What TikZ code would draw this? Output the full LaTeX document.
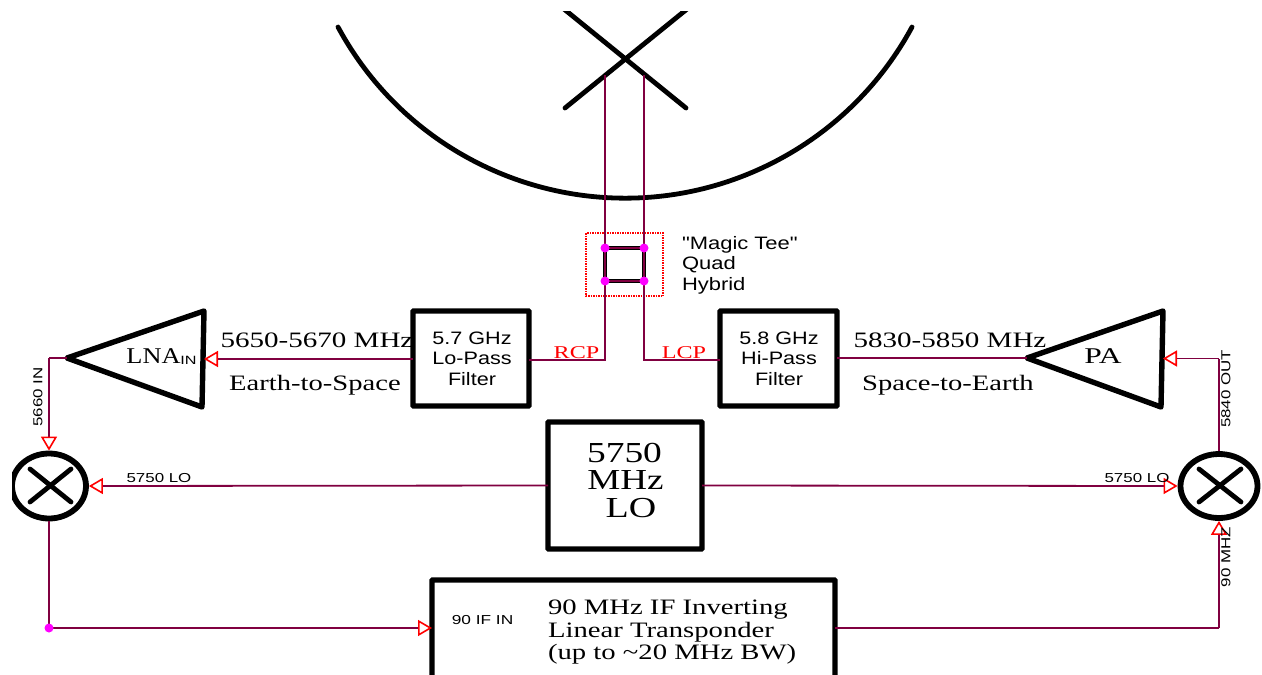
\documentclass[tikz,border=0pt]{standalone}
\usepackage{fontspec}
\usepackage{graphicx}
\setmainfont{Liberation Serif}
\setsansfont{Liberation Sans}[Ligatures=TeXOff]
\usetikzlibrary{arrows.meta,shapes.geometric}
\definecolor{wire}{HTML}{800040}
\definecolor{portc}{HTML}{FF00FF}
\definecolor{redc}{HTML}{FF0000}
\newcommand{\Ser}[3]{{\fontsize{#1}{#1}\selectfont\scalebox{#2}[1]{#3}}}
\newcommand{\San}[3]{{\sffamily\fontsize{#1}{#1}\selectfont\scalebox{#2}[1]{#3}}}
\tikzset{
  heavy/.style={draw=black,line width=5.4pt,line join=round,line cap=round},
  medium/.style={draw=black,line width=4.8pt,line cap=round},
  blockbox/.style={draw=black,line width=5.4pt,rounded corners=0.8pt,outer sep=0pt,inner sep=0pt,fill=white},
  mixer/.style={draw=black,line width=5.8pt,ellipse,outer sep=2.9pt,inner sep=0pt},
  wireline/.style={draw=wire,line width=1.8pt},
  feed/.style={wireline,-{Triangle[open,length=14pt,width=16pt,color=redc,line width=1.6pt]}},
  lbl/.style={inner sep=0pt,outer sep=0pt,text=black,align=center},
  port/.style={circle,fill=portc,inner sep=0pt,minimum size=9pt}
}
\begin{document}
\begin{tikzpicture}[x=1pt,y=-1pt]
\useasboundingbox (0,0) rectangle (1262,675);
\clip (12,11) rectangle (1262,675);
% coordinates
\coordinate (xtl) at (559,5);
\coordinate (xtr) at (692,5);
\coordinate (xbl) at (565,108);
\coordinate (xbr) at (686,108);
\coordinate (rcpTop) at (605,75);
\coordinate (lcpTop) at (644,75);
\coordinate (rcpBot) at (605,360);
\coordinate (lcpBot) at (644,360);
\coordinate (lnaTip) at (67,358);
\coordinate (lnaTop) at (204,311);
\coordinate (lnaBot) at (202,407);
\coordinate (lnaIn) at (204,359);
\coordinate (paTip) at (1027,358);
\coordinate (paTop) at (1163,311);
\coordinate (paBot) at (1161,407);
\coordinate (paIn) at (1163,358.5);
\coordinate (outCorner) at (1219,358.5);
\coordinate (lnaOut) at (49,358);
\coordinate (ifDot) at (49,628);
\coordinate (ifCorner) at (1219,628);
% dish and feed
\draw[black,line width=4.8pt,line cap=round] (338,27) arc[start angle=151.6,end angle=28.4,radius=326.3];
\draw[medium] (xtl) -- (xbr);
\draw[medium] (xtr) -- (xbl);
% blocks
\node[blockbox,minimum width=116pt,minimum height=95pt] (lopass) at (471,358.5) {};
\node[blockbox,minimum width=117pt,minimum height=95pt] (hipass) at (778.5,358.5) {};
\node[blockbox,minimum width=154pt,minimum height=127pt] (lo) at (625,485.5) {};
\node[blockbox,minimum width=403pt,minimum height=110pt,anchor=north west] (ifbox) at (432,580) {};
\node[mixer,minimum width=74pt,minimum height=65pt] (mixL) at (49,486) {};
\node[mixer,minimum width=77pt,minimum height=64pt] (mixR) at (1219,486) {};
\draw[medium] (30,469) -- (71,502);
\draw[medium] (30,502) -- (71,469);
\draw[medium] (1199,469) -- (1241,502);
\draw[medium] (1199,502) -- (1241,469);
% amplifiers
\draw[heavy] (lnaTip) -- (lnaTop) -- (lnaBot) -- cycle;
\draw[heavy] (paTip) -- (paTop) -- (paBot) -- cycle;
% hybrid
\draw[redc,densely dotted,line width=1.5pt] (586,233) rectangle (663,296);
\draw[black,line width=4.6pt] (605,248) rectangle (644,281);
% wires
\draw[wireline] (rcpTop) -- (rcpBot) -- (lopass.east |- rcpBot);
\draw[wireline] (lcpTop) -- (lcpBot) -- (hipass.west |- lcpBot);
\draw[wireline] (605,248) -- (644,248) (644,281) -- (605,281);
\draw[feed] (lopass.west |- lnaIn) -- (lnaIn);
\draw[wireline] (hipass.east |- paTip) -- (paTip);
\draw[feed] (outCorner) -- (paIn);
\draw[wireline] (mixR.north) -- (outCorner);
\draw[wireline] (lnaTip) -- (lnaOut);
\draw[feed] (lnaOut) -- (mixL.north);
\draw[feed] (lo.west) -- (mixL.east);
\draw[feed] (lo.east) -- (mixR.west);
\draw[wireline] (mixL.south) -- (ifDot);
\draw[feed] (ifDot) -- (ifbox.west |- ifDot);
\draw[wireline] (ifbox.east |- ifCorner) -- (ifCorner);
\draw[feed] (ifCorner) -- (mixR.south);
\node[port] (p1) at (605,248) {};
\node[port] (p2) at (644,248) {};
\node[port] (p3) at (605,281) {};
\node[port] (p4) at (644,281) {};
\node[port] (dotL) at (ifDot) {};
% labels
\node[lbl,anchor=west] (tee1) at (682,245) {\San{18}{1.22}{"Magic Tee"}};
\node[lbl,anchor=west] (tee2) at (682,265) {\San{18}{1.22}{Quad}};
\node[lbl,anchor=west] (tee3) at (682,286) {\San{18}{1.22}{Hybrid}};
\node[lbl] (lp1) at (472,338) {\San{18}{1.2}{5.7 GHz}};
\node[lbl] (lp2) at (472,358) {\San{18}{1.2}{Lo-Pass}};
\node[lbl] (lp3) at (472,379) {\San{18}{1.2}{Filter}};
\node[lbl] (hp1) at (779,338) {\San{18}{1.2}{5.8 GHz}};
\node[lbl] (hp2) at (779,358) {\San{18}{1.2}{Hi-Pass}};
\node[lbl] (hp3) at (779,379) {\San{18}{1.2}{Filter}};
\node[lbl] (f1) at (317,340) {\Ser{22}{1.32}{5650-5670 MHz}};
\node[lbl] (f2) at (315,385.5) {\Ser{22}{1.3}{Earth-to-Space}};
\node[lbl] (f3) at (950,340) {\Ser{22}{1.32}{5830-5850 MHz}};
\node[lbl] (f4) at (948,385.5) {\Ser{22}{1.3}{Space-to-Earth}};
\node[lbl,text=redc] (rcp) at (576.5,352.5) {\Ser{18}{1.34}{RCP}};
\node[lbl,text=redc] (lcp) at (684,352.5) {\Ser{18}{1.34}{LCP}};
\node[lbl] (lna) at (153.5,356) {\Ser{22.5}{1.17}{LNA}};
\node[lbl] (lnain) at (188.5,360.5) {\San{12}{1.35}{IN}};
\node[lbl] (pa) at (1103,356) {\Ser{22.5}{1.4}{PA}};
\node[lbl] (lo1) at (624.5,453) {\Ser{29}{1.29}{5750}};
\node[lbl] (lo2) at (625.5,480) {\Ser{29}{1.28}{MHz}};
\node[lbl] (lo3) at (631,508) {\Ser{29}{1.31}{LO}};
\node[lbl] (loL) at (159,478) {\San{13}{1.3}{5750 LO}};
\node[lbl] (loR) at (1137,478) {\San{13}{1.3}{5750 LO}};
\node[lbl,rotate=90] (r1) at (38,397) {\San{13}{1.3}{5660 IN}};
\node[lbl,rotate=90] (r2) at (1226,389) {\San{13}{1.3}{5840 OUT}};
\node[lbl,rotate=90] (r3) at (1226,557) {\San{13}{1.3}{90 MHZ}};
\node[lbl] (ifin) at (482.5,620) {\San{13}{1.33}{90 IF IN}};
\node[lbl,anchor=west] (t1) at (548,610) {\Ser{22}{1.304}{90 MHz IF Inverting}};
\node[lbl,anchor=west] (t2) at (548,632) {\Ser{22}{1.304}{Linear Transponder}};
\node[lbl,anchor=west] (t3) at (548,654) {\Ser{22}{1.304}{(up to \textasciitilde 20 MHz BW)}};
\end{tikzpicture}
\end{document}
